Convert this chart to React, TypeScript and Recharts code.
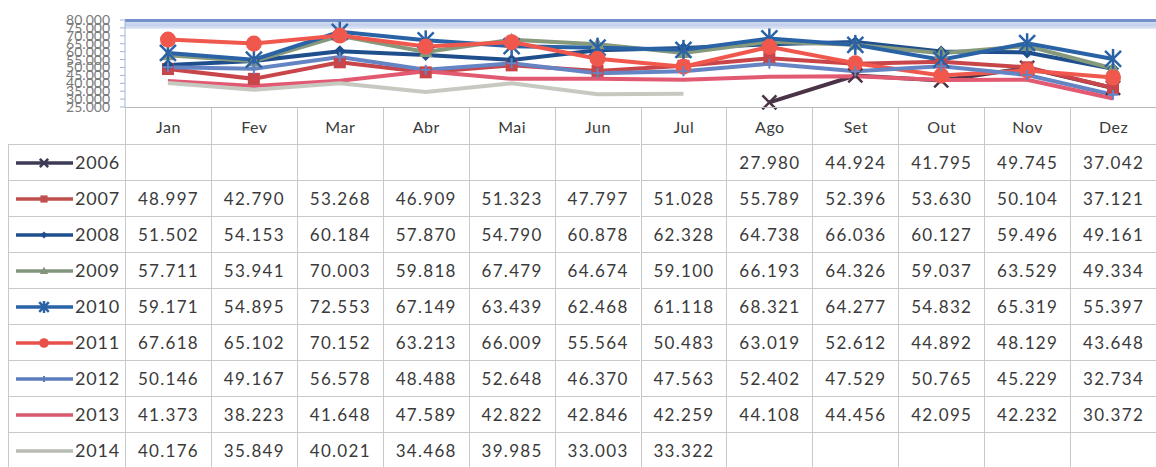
import React from "react";
import { LineChart, Line, XAxis, YAxis } from "recharts";

const months = ["Jan", "Fev", "Mar", "Abr", "Mai", "Jun", "Jul", "Ago", "Set", "Out", "Nov", "Dez"];
const years = ["2006", "2007", "2008", "2009", "2010", "2011", "2012", "2013", "2014"];

const v2006 = [null, null, null, null, null, null, null, 27980, 44924, 41795, 49745, 37042];
const v2007 = [48997, 42790, 53268, 46909, 51323, 47797, 51028, 55789, 52396, 53630, 50104, 37121];
const v2008 = [51502, 54153, 60184, 57870, 54790, 60878, 62328, 64738, 66036, 60127, 59496, 49161];
const v2009 = [57711, 53941, 70003, 59818, 67479, 64674, 59100, 66193, 64326, 59037, 63529, 49334];
const v2010 = [59171, 54895, 72553, 67149, 63439, 62468, 61118, 68321, 64277, 54832, 65319, 55397];
const v2011 = [67618, 65102, 70152, 63213, 66009, 55564, 50483, 63019, 52612, 44892, 48129, 43648];
const v2012 = [50146, 49167, 56578, 48488, 52648, 46370, 47563, 52402, 47529, 50765, 45229, 32734];
const v2013 = [41373, 38223, 41648, 47589, 42822, 42846, 42259, 44108, 44456, 42095, 42232, 30372];
const v2014 = [40176, 35849, 40021, 34468, 39985, 33003, 33322, null, null, null, null, null];

const yTicks = [25000, 30000, 35000, 40000, 45000, 50000, 55000, 60000, 65000, 70000, 75000, 80000];

const seriesValues = [v2006, v2007, v2008, v2009, v2010, v2011, v2012, v2013, v2014];

// look of each year: line colour, legend colour, marker
const styles = [
  { color: "#4a3346", key: "#3c3a55", shape: "x" },
  { color: "#c8464a", key: "#c0504d", shape: "square" },
  { color: "#1f4e8c", key: "#1f4e8c", shape: "diamond" },
  { color: "#86997a", key: "#82947c", shape: "triangle" },
  { color: "#2a62a6", key: "#2a62a6", shape: "star" },
  { color: "#f0584e", key: "#e8504a", shape: "circle" },
  { color: "#6484c4", key: "#5a7cbc", shape: "plus" },
  { color: "#e25a72", key: "#d8586c", shape: "none" },
  { color: "#c6c9c0", key: "#b8bcb4", shape: "none" },
];

const data = months.map((m, i) => {
  const row: any = { name: m };
  years.forEach((y, s) => {
    row["y" + y] = seriesValues[s][i];
  });
  return row;
});

const fmt = (n: number) => `${Math.floor(n / 1000)}.${String(n % 1000).padStart(3, "0")}`;

function marker(shape: string, color: string, cx: number, cy: number, scale = 1, k?: any) {
  const s = scale;
  switch (shape) {
    case "x":
      return (
        <g key={k} stroke={color} strokeWidth={2.5}>
          <line x1={cx - 7 * s} y1={cy - 7 * s} x2={cx + 7 * s} y2={cy + 7 * s} />
          <line x1={cx - 7 * s} y1={cy + 7 * s} x2={cx + 7 * s} y2={cy - 7 * s} />
        </g>
      );
    case "square":
      return <rect key={k} x={cx - 6 * s} y={cy - 6 * s} width={12 * s} height={12 * s} fill={color} />;
    case "diamond":
      return (
        <polygon
          key={k}
          points={`${cx},${cy - 6 * s} ${cx + 6 * s},${cy} ${cx},${cy + 6 * s} ${cx - 6 * s},${cy}`}
          fill={color}
        />
      );
    case "triangle":
      return (
        <polygon
          key={k}
          points={`${cx},${cy - 7 * s} ${cx + 7 * s},${cy + 5 * s} ${cx - 7 * s},${cy + 5 * s}`}
          fill={color}
        />
      );
    case "star":
      return (
        <g key={k} stroke={color} strokeWidth={2.5}>
          <line x1={cx - 8 * s} y1={cy - 8 * s} x2={cx + 8 * s} y2={cy + 8 * s} />
          <line x1={cx - 8 * s} y1={cy + 8 * s} x2={cx + 8 * s} y2={cy - 8 * s} />
          <line x1={cx} y1={cy - 10 * s} x2={cx} y2={cy + 10 * s} />
        </g>
      );
    case "circle":
      return <circle key={k} cx={cx} cy={cy} r={8 * s} fill={color} />;
    case "plus":
      return (
        <g key={k} stroke={color} strokeWidth={2}>
          <line x1={cx} y1={cy - 5 * s} x2={cx} y2={cy + 5 * s} />
          <line x1={cx - 5 * s} y1={cy} x2={cx + 5 * s} y2={cy} />
        </g>
      );
    default:
      return <g key={k} />;
  }
}

const makeDot = (shape: string, color: string) => (props: any) => {
  const { cx, cy, index, value } = props;
  if (cx == null || cy == null || value == null) return <g key={`d${index}`} />;
  return marker(shape, color, cx, cy, 1, `d${index}`);
};

const FONT = "Lato, 'Open Sans', sans-serif";
const BORDER = "1px solid #c9c9c9";
const LEFT = 8;
const KEYW = 117;
const COLW = (1156 - LEFT - KEYW) / 12;
const PLOT_TOP = 20;
const HEAD_TOP = 107;
const ROW_TOP = 144;
const ROWH = 36;

const App = () => {
  return (
    <div
      style={{
        position: "absolute",
        left: 0,
        top: 0,
        width: 1156,
        height: 467,
        background: "#fff",
        overflow: "hidden",
        fontFamily: FONT,
      }}
    >
      {/* top band of the plot area */}
      <div
        style={{
          position: "absolute",
          left: LEFT + KEYW,
          top: PLOT_TOP - 1,
          width: 1156 - LEFT - KEYW,
          height: 10,
          background: "linear-gradient(#7690cc 0, #7690cc 3px, #d5def1 3px, #c2d0ec 6px, #e4eaf6 10px)",
        }}
      />
      <div style={{ position: "absolute", left: 0, top: 0 }}>
        <LineChart width={1156} height={120} data={data} margin={{ top: PLOT_TOP, right: 0, bottom: 120 - HEAD_TOP, left: 0 }}>
          <XAxis dataKey="name" hide padding={{ left: COLW / 2, right: COLW / 2 }} />
          <YAxis
            width={LEFT + KEYW}
            domain={[25000, 80000]}
            ticks={yTicks}
            interval={0}
            tickFormatter={fmt}
            tick={{ fontSize: 14, fill: "#7a7a7a", fontFamily: FONT, dx: -8 }}
            stroke="#9fb4d6"
            tickSize={5}
          />
          {years.map((y, s) => (
            <Line
              key={y}
              type="linear"
              dataKey={"y" + y}
              stroke={styles[s].color}
              strokeWidth={4}
              dot={makeDot(styles[s].shape, styles[s].color)}
              activeDot={false}
              connectNulls={false}
              isAnimationActive={false}
            />
          ))}
        </LineChart>
      </div>

      {/* plot bottom line */}
      <div
        style={{
          position: "absolute",
          left: LEFT + KEYW,
          top: HEAD_TOP,
          width: 1156 - LEFT - KEYW,
          borderTop: "1px solid #b8b8b8",
        }}
      />

      {/* month header row */}
      {months.map((m, i) => (
        <div
          key={m}
          style={{
            position: "absolute",
            left: LEFT + KEYW + i * COLW,
            top: HEAD_TOP + 1,
            width: COLW,
            height: ROW_TOP - HEAD_TOP - 1,
            borderLeft: BORDER,
            boxSizing: "border-box",
            display: "flex",
            alignItems: "center",
            justifyContent: "center",
            fontSize: 16,
            color: "#3a3a3a",
            letterSpacing: 0.5,
          }}
        >
          {m}
        </div>
      ))}

      {/* data rows */}
      {years.map((y, s) => (
        <React.Fragment key={y}>
          <div
            style={{
              position: "absolute",
              left: LEFT,
              top: ROW_TOP + s * ROWH,
              width: KEYW,
              height: ROWH,
              borderLeft: BORDER,
              borderTop: BORDER,
              boxSizing: "border-box",
            }}
          >
            <svg width={KEYW} height={ROWH} style={{ position: "absolute", left: 0, top: 0 }}>
              <line x1={7} y1={ROWH / 2} x2={64} y2={ROWH / 2} stroke={styles[s].key} strokeWidth={3.5} />
              {marker(styles[s].shape, styles[s].key, 35, ROWH / 2, 0.6)}
              <text
                x={66}
                y={ROWH / 2 + 6}
                fontSize={18}
                fill="#3a3a3a"
                fontFamily={FONT}
                letterSpacing={0.8}
              >
                {y}
              </text>
            </svg>
          </div>
          {seriesValues[s].map((v, i) => (
            <div
              key={i}
              style={{
                position: "absolute",
                left: LEFT + KEYW + i * COLW,
                top: ROW_TOP + s * ROWH,
                width: COLW,
                height: ROWH,
                borderLeft: BORDER,
                borderTop: BORDER,
                boxSizing: "border-box",
                display: "flex",
                alignItems: "center",
                justifyContent: "center",
                fontSize: 17,
                color: "#3a3a3a",
                letterSpacing: 1.3,
              }}
            >
              {v == null ? "" : fmt(v)}
            </div>
          ))}
        </React.Fragment>
      ))}
    </div>
  );
};

export default App;
